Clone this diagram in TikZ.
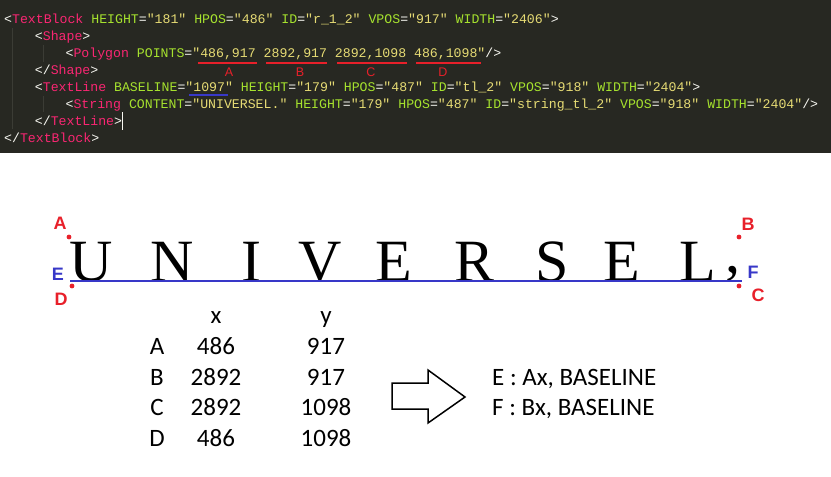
\documentclass[tikz,border=0pt]{standalone}
\usepackage{fontspec}
\usepackage{xcolor}
\usetikzlibrary{positioning,calc}
\setmainfont{Carlito}
\newfontfamily\codefont{Liberation Mono}
\newfontfamily\labfont{Liberation Sans}
\newfontfamily\scanfont{Liberation Serif}
\definecolor{edbg}{HTML}{272822}
\definecolor{edwhite}{HTML}{F8F8F2}
\definecolor{edpink}{HTML}{F92672}
\definecolor{edgreen}{HTML}{A6E22E}
\definecolor{edyellow}{HTML}{E6DB74}
\definecolor{edguide}{HTML}{3B3C35}
\definecolor{mkred}{HTML}{E8202A}
\definecolor{mkblue}{HTML}{3838C8}
\newcommand\xtag[1]{\textcolor{edpink}{#1}}
\newcommand\xatt[1]{\textcolor{edgreen}{#1}}
\newcommand\xval[1]{\textcolor{edyellow}{"#1"}}
\tikzset{
  codeline/.style={anchor=base west, inner sep=0pt, text=edwhite,
    font=\codefont\fontsize{13.2}{17}\selectfont},
  ptmark/.style={draw=mkred, line width=2.4pt},
  ptlab/.style={text=mkred, inner sep=0pt, font=\labfont\fontsize{12.5}{12.5}\selectfont},
  glyph/.style={anchor=base, inner sep=0pt, font=\scanfont\fontsize{60}{60}\selectfont},
  cornerlab/.style={inner sep=0pt, font=\labfont\bfseries\fontsize{18}{18}\selectfont},
  cell/.style={anchor=base, inner sep=0pt, font=\fontsize{25}{25}\selectfont},
}
\begin{document}
\begin{tikzpicture}[x=1pt,y=-1pt]
  \useasboundingbox (0,0) rectangle (831,477);
  \fill[white] (0,0) rectangle (831,477);

  % editor panel
  \fill[edbg] (0,0) rectangle (831,153);
  \draw[edguide] (12,28) -- (12,129);
  \draw[edguide] (43,45) -- (43,62);
  \draw[edguide] (43,96) -- (43,112);
  \def\cw{7.68}
  \node[codeline] (l1) at (4,23) {<\xtag{TextBlock} \xatt{HEIGHT}=\xval{181} \xatt{HPOS}=\xval{486} \xatt{ID}=\xval{r\_1\_2} \xatt{VPOS}=\xval{917} \xatt{WIDTH}=\xval{2406}>};
  \node[codeline] (l2) at (4+4*\cw,40) {<\xtag{Shape}>};
  \node[codeline] (l3) at (4+8*\cw,57) {<\xtag{Polygon} \xatt{POINTS}=\xval{486,917 2892,917 2892,1098 486,1098}/>};
  \node[codeline] (l4) at (4+4*\cw,74) {</\xtag{Shape}>};
  \node[codeline] (l5) at (4+4*\cw,91) {<\xtag{TextLine} \xatt{BASELINE}=\xval{1097} \xatt{HEIGHT}=\xval{179} \xatt{HPOS}=\xval{487} \xatt{ID}=\xval{tl\_2} \xatt{VPOS}=\xval{918} \xatt{WIDTH}=\xval{2404}>};
  \node[codeline] (l6) at (4+8*\cw,108) {<\xtag{String} \xatt{CONTENT}=\xval{UNIVERSEL.} \xatt{HEIGHT}=\xval{179} \xatt{HPOS}=\xval{487} \xatt{ID}=\xval{string\_tl\_2} \xatt{VPOS}=\xval{918} \xatt{WIDTH}=\xval{2404}/>};
  \node[codeline] (l7) at (4+4*\cw,125) {</\xtag{TextLine}>};
  \node[codeline] (l8) at (4,142) {</\xtag{TextBlock}>};
  \draw[edwhite, line width=1pt] (122,112) -- (122,130);

  % polygon points underlined
  \foreach \nm/\xa/\xb/\xl in {A/198/257/229, B/266/327/300, C/337/407/371, D/416/481/443} {
    \draw[ptmark] (\xa,63) -- (\xb,63);
    \node[ptlab] (pt\nm) at (\xl,72) {\nm};
  }
  \draw[mkblue, line width=2pt] (189,95) -- (228,95);

  % scanned word
  \foreach \ch/\cx in {U/91, N/172, I/251, V/320, E/394, R/475, S/552, E/622, L/698} {
    \node[glyph] at (\cx,281) {\ch};
  }
  \node[glyph] (comma) at (733,272) {,};

  % corners and baseline
  \coordinate (cA) at (69,237);
  \coordinate (cB) at (739,237);
  \coordinate (cC) at (739,286);
  \coordinate (cD) at (72,286);
  \coordinate (cE) at (70,281);
  \coordinate (cF) at (742,281);
  \draw[mkblue, line width=1.3pt] (cE) -- (cF);
  \foreach \c in {cA,cB,cC,cD} {
    \fill[mkred] (\c) circle (2.4);
  }
  \node[cornerlab, text=mkred] at (60,223) {A};
  \node[cornerlab, text=mkblue] at (58,274) {E};
  \node[cornerlab, text=mkred] at (61,299) {D};
  \node[cornerlab, text=mkred] at (748,224) {B};
  \node[cornerlab, text=mkblue] at (753,272) {F};
  \node[cornerlab, text=mkred] at (758,295) {C};

  % coordinate table
  \node[cell] (hx) at (216,323) {x};
  \node[cell] (hy) at (326,323) {y};
  \foreach \nm/\vx/\vy/\ry in {A/486/917/354, B/2892/917/385, C/2892/1098/415, D/486/1098/446} {
    \node[cell] (row\nm) at (157,\ry) {\nm};
    \node[cell] (x\nm) at (216,\ry) {\vx};
    \node[cell] (y\nm) at (326,\ry) {\vy};
  }

  % block arrow
  \draw[line width=1.5pt, line join=miter]
    (392,383) -- (428,383) -- (428,370) -- (465,397) -- (428,423) -- (428,409) -- (392,409) -- cycle;

  \node[cell, anchor=base west] (resE) at (492,385) {E : Ax, BASELINE};
  \node[cell, anchor=base west] (resF) at (492,415) {F : Bx, BASELINE};
\end{tikzpicture}
\end{document}
